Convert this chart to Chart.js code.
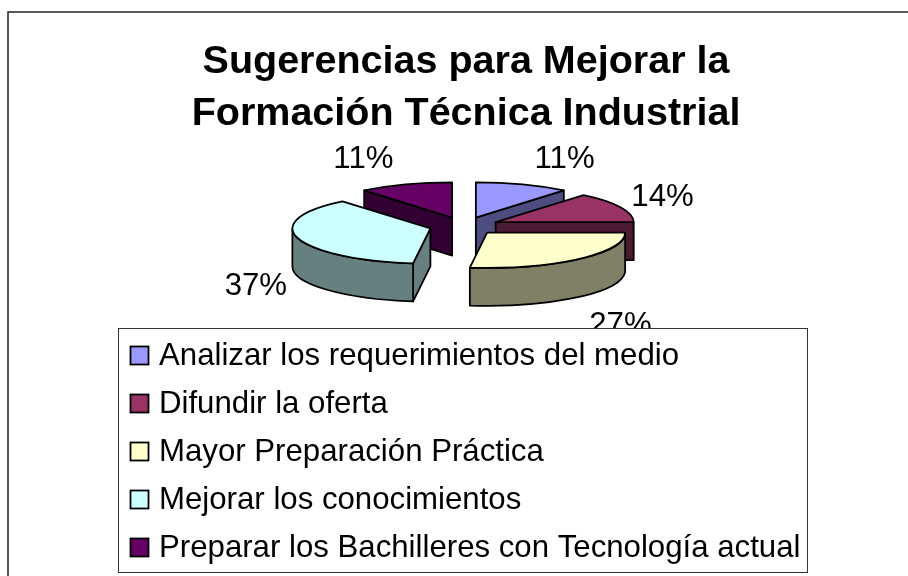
<!DOCTYPE html>
<html><head><meta charset="utf-8">
<style>html,body{margin:0;padding:0;background:#fff}canvas{display:block}</style>
<script src="https://cdn.jsdelivr.net/npm/chart.js@4/dist/chart.umd.js"></script>
</head><body><canvas id="c" width="908" height="576"></canvas>
<script>
const categories = ['Analizar los requerimientos del medio','Difundir la oferta','Mayor Preparación Práctica','Mejorar los conocimientos','Preparar los Bachilleres con Tecnología actual'];
const shares = [11,14,27,37,11];
const topColors = ['#9999FF','#993366','#FFFFCC','#CCFFFF','#660066'];
const sideColors = ['#4D4D80','#4D1A33','#808066','#668080','#330033'];
const titleLines = ['Sugerencias para Mejorar la','Formación Técnica Industrial'];
const paintOrder = [0,4,1,3,2];

const FONT = '"Liberation Sans", Arial, sans-serif';
const TILT = 0.255, DEPTH = 38, SHIFT_X = -2;

function slice3d(ctx, arc, i){
  const p = arc.getProps(['x','y','startAngle','endAngle','outerRadius'], true);
  const o = arc.options, d = o.offset/4, mid = (p.startAngle+p.endAngle)/2;
  const r = p.outerRadius, s = p.startAngle, e = p.endAngle;
  const ax = p.x+SHIFT_X+Math.cos(mid)*d, ay = p.y+Math.sin(mid)*d*TILT;
  const rim = a => [ax+Math.cos(a)*r, ay+Math.sin(a)*r*TILT];
  ctx.lineJoin='round'; ctx.lineWidth=1.8; ctx.strokeStyle='#000'; ctx.fillStyle=sideColors[i];
  const radial = a => {
    const q = rim(a);
    ctx.beginPath(); ctx.moveTo(ax,ay); ctx.lineTo(q[0],q[1]); ctx.lineTo(q[0],q[1]+DEPTH); ctx.lineTo(ax,ay+DEPTH); ctx.closePath();
    ctx.fill(); ctx.stroke();
  };
  if (Math.cos(s) < -1e-6) radial(s);
  if (Math.cos(e) >  1e-6) radial(e);
  const a0 = Math.max(s,0), a1 = Math.min(e,Math.PI);
  if (a1 > a0){
    ctx.beginPath();
    ctx.ellipse(ax,ay,r,r*TILT,0,a0,a1);
    ctx.ellipse(ax,ay+DEPTH,r,r*TILT,0,a1,a0,true);
    ctx.closePath(); ctx.fill(); ctx.stroke();
  }
  ctx.fillStyle=o.backgroundColor;
  ctx.beginPath(); ctx.moveTo(ax,ay); ctx.ellipse(ax,ay,r,r*TILT,0,s,e); ctx.closePath(); ctx.fill(); ctx.stroke();
}

const pie3d = {
  id:'pie3d',
  beforeDraw(chart){
    const ctx = chart.ctx;
    ctx.save(); ctx.strokeStyle='#222'; ctx.lineWidth=1.5;
    ctx.beginPath(); ctx.moveTo(chart.width,12); ctx.lineTo(8,12); ctx.lineTo(8,chart.height); ctx.stroke();
    ctx.restore();
  },
  beforeDatasetsDraw(chart){
    const ctx = chart.ctx, arcs = chart.getDatasetMeta(0).data;
    ctx.save();
    paintOrder.forEach(i => slice3d(ctx, arcs[i], i));
    ctx.fillStyle='#000'; ctx.font='31.2px '+FONT; ctx.textAlign='center'; ctx.textBaseline='middle';
    arcs.forEach((arc,i) => {
      const p = arc.getProps(['x','y','startAngle','endAngle','outerRadius'], true);
      const mid=(p.startAngle+p.endAngle)/2, d=arc.options.offset/4, sn=Math.sin(mid), cs=Math.cos(mid);
      const x=p.x+SHIFT_X+cs*(d+p.outerRadius)+(cs>0?42:-42);
      const y=p.y+sn*(d+p.outerRadius)*TILT+(sn>0?DEPTH+sn*38:sn*30+3);
      ctx.fillText(shares[i]+'%',x,y);
    });
    ctx.restore();
    return false;
  },
  afterDraw(chart){
    const ctx = chart.ctx;
    ctx.save();
    ctx.fillStyle='#fff'; ctx.strokeStyle='#333'; ctx.lineWidth=1;
    ctx.fillRect(118,328,689,244); ctx.strokeRect(118.5,328.5,689,244);
    ctx.font='31.2px '+FONT; ctx.textBaseline='middle'; ctx.textAlign='left';
    categories.forEach((label,i) => {
      const y = 346+48*i;
      ctx.fillStyle=topColors[i]; ctx.fillRect(130.5,y+.5,18,18);
      ctx.strokeStyle='#000'; ctx.lineWidth=1.8; ctx.strokeRect(130.5,y+.5,18,18);
      ctx.fillStyle='#000'; ctx.fillText(label,159,y+10);
    });
    ctx.restore();
  }
};

new Chart(document.getElementById('c'),{
  type:'pie',
  data:{labels:categories,datasets:[{data:shares,backgroundColor:topColors,borderWidth:0,offset:140,radius:138}]},
  options:{
    responsive:false,animation:false,
    layout:{padding:{left:24,right:0,top:0,bottom:264}},
    plugins:{
      legend:{display:false},tooltip:{enabled:false},
      title:{display:true,text:titleLines,fullSize:false,color:'#000',font:{family:FONT,size:39.5,weight:'bold',lineHeight:1.316},padding:{top:36,bottom:0}}
    }
  },
  plugins:[pie3d]
});
</script></body></html>
